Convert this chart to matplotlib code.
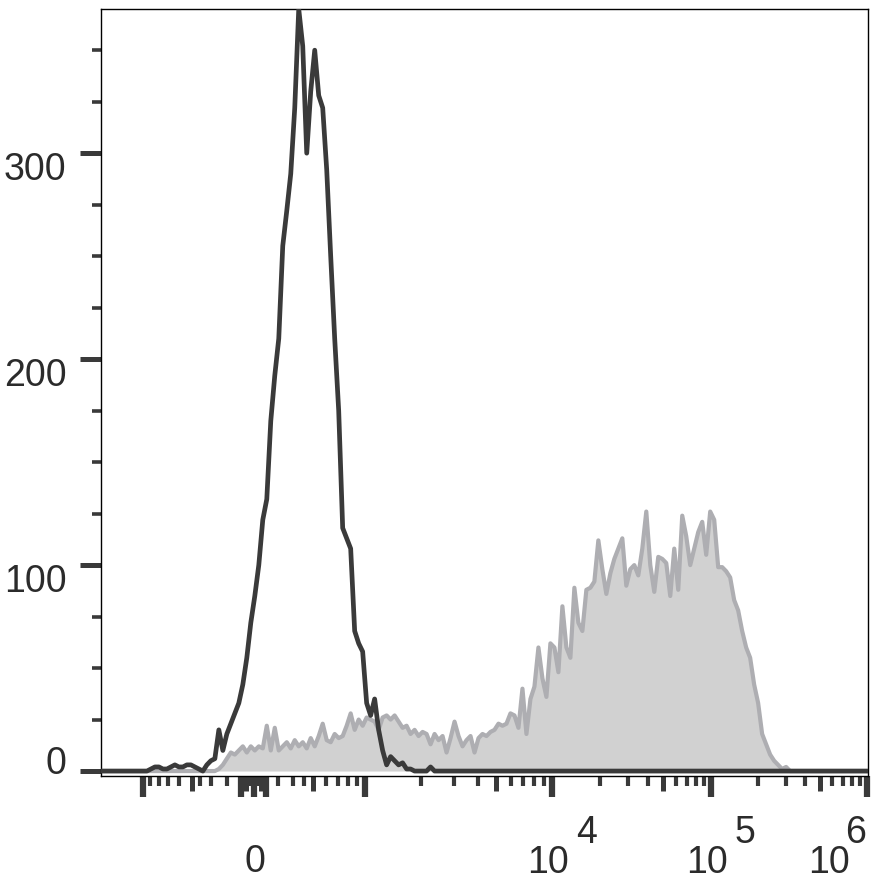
import numpy as np
import matplotlib
matplotlib.use('Agg')
import matplotlib.pyplot as plt
import matplotlib.transforms as mtransforms

plt.rcParams['font.family'] = ['Liberation Sans', 'DejaVu Sans']

# ── Histogram data: counts per display channel (192 channels across the axis) ──
N_CHANNELS = 192

# control sample (dark outline), counts from channel 12 on
control_start = 12
control_counts = [
    1, 2, 2, 1, 1, 2, 3, 2, 2, 3, 3, 2, 1, 0, 3, 5, 6, 20, 10, 18,
    23, 28, 33, 42, 55, 72, 85, 100, 122, 132, 170, 192, 210, 255, 272, 290,
    322, 370, 352, 300, 330, 350, 328, 322, 292, 250, 210, 175, 118, 113, 108,
    68, 62, 58, 33, 27, 35, 20, 10, 3, 7, 5, 3, 4, 1, 1, 0, 0, 0, 0, 2,
]

# stained sample (grey filled), counts from channel 29 on
stained_start = 29
stained_counts = [
    1, 3, 6, 9, 8, 10, 12, 9, 12, 10, 12, 11, 22, 10, 21, 10, 12, 14, 11, 15,
    12, 14, 11, 16, 12, 17, 23, 15, 14, 18, 16, 17, 22, 28, 20, 25, 22, 26, 25, 24,
    20, 26, 27, 25, 27, 24, 21, 22, 18, 20, 17, 19, 18, 13, 18, 15, 17, 9, 16, 24,
    17, 12, 15, 17, 9, 16, 18, 17, 19, 20, 23, 22, 23, 28, 27, 21, 40, 18, 35, 41,
    60, 45, 36, 62, 60, 48, 80, 60, 55, 89, 72, 68, 88, 89, 92, 112, 98, 86, 96, 103,
    108, 113, 90, 98, 100, 95, 108, 126, 100, 87, 104, 103, 101, 85, 108, 88, 124, 114, 100, 108,
    116, 121, 105, 126, 122, 99, 99, 97, 94, 83, 78, 68, 60, 55, 42, 33, 18, 13, 8, 5,
    3, 1, 2, 0,
]

# biexponential display scale: intensity -> channel
BIEX_VALUES = [-1000, -500, -200, -100, 0, 100, 200, 500, 1000, 1e4, 1e5, 1e6]
BIEX_CHANNELS = [10.0, 22.25, 31.0, 34.5, 37.75, 40.75, 43.75, 52.5, 65.5, 112.5, 152.25, 191.25]

MAJOR_VALUES = [-1000, -100, 0, 100, 1000, 1e4, 1e5, 1e6]
MEDIUM_VALUES = [-500, -50, 50, 500, 5e3, 5e4, 5e5]
MINOR_VALUES = ([-v for v in (200, 300, 400, 600, 700, 800, 900)]
                + [-v for v in (10, 20, 30, 40, 60, 70, 80, 90)]
                + [10, 20, 30, 40, 60, 70, 80, 90]
                + [200, 300, 400, 600, 700, 800, 900]
                + [m * d for d in (1e3, 1e4, 1e5) for m in (2, 3, 4, 6, 7, 8, 9)])

LABEL_DECADES = [(1e4, '4'), (1e5, '5'), (1e6, '6')]

Y_MAJOR = [0, 100, 200, 300]
Y_MINOR = [25, 50, 75, 125, 150, 175, 225, 250, 275, 325, 350]

DARK = '#3a3a3a'
FILL = '#d1d1d1'
EDGE = '#aeaeb2'
TEXT = '#2b2b2b'


def biex(v):
    s = np.arcsinh(np.asarray(v, dtype=float) / 50.0)
    return np.interp(s, np.arcsinh(np.array(BIEX_VALUES) / 50.0), BIEX_CHANNELS)


# ── build full-length histograms ─────────────────────────────────────────────
channels = np.arange(N_CHANNELS)
control = np.zeros(N_CHANNELS)
control[control_start:control_start + len(control_counts)] = control_counts
stained = np.zeros(N_CHANNELS)
stained[stained_start:stained_start + len(stained_counts)] = stained_counts

fig = plt.figure(figsize=(8.82, 8.83), dpi=100)
ax = fig.add_axes([101 / 882, 107 / 883, 767 / 882, 767 / 883])

ax.fill_between(channels, stained, 0, color=FILL, linewidth=0, zorder=1)
ax.plot(channels, stained, color=EDGE, linewidth=3.0, zorder=2)
ax.plot(channels, control, color=DARK, linewidth=3.4, zorder=3)

ax.set_xlim(-0.5, N_CHANNELS - 0.5)
ax.set_ylim(-2.4, 370)

for sp in ax.spines.values():
    sp.set_color('black')
    sp.set_linewidth(1.0)

# ── x ticks (three lengths) ───────────────────────────────────────────────────
big = MAJOR_VALUES + MEDIUM_VALUES
ax.set_xticks(biex(big))
ax.set_xticks(biex(MINOR_VALUES), minor=True)
ax.set_xticklabels([''] * len(big))
ax.tick_params(axis='x', which='major', direction='out', length=15, width=4.5, color=DARK)
ax.tick_params(axis='x', which='minor', direction='out', length=7, width=3.0, color=DARK)
for tick in ax.xaxis.get_major_ticks()[len(MAJOR_VALUES):]:
    tick.tick1line.set_markersize(11)
    tick.tick1line.set_markeredgewidth(3.6)

# ── y ticks ───────────────────────────────────────────────────────────────────
ax.set_yticks(Y_MAJOR)
ax.set_yticks(Y_MINOR, minor=True)
ax.set_yticklabels([str(v) for v in Y_MAJOR])
ax.tick_params(axis='y', which='major', direction='out', length=15, width=3.6,
               color=DARK, pad=10, labelsize=27, labelcolor=TEXT)
ax.tick_params(axis='y', which='minor', direction='out', length=6.5, width=2.6, color=DARK)
for v, lab in zip(Y_MAJOR, ax.get_yticklabels()):
    dy = 11 if v == 0 else -13
    lab.set_transform(lab.get_transform()
                      + mtransforms.ScaledTranslation(0, dy / 100, fig.dpi_scale_trans))

# ── x labels: "0" and 10^n ───────────────────────────────────────────────────
xy_trans = ('data', 'axes fraction')
ax.annotate('0', xy=(biex(0), 0), xycoords=xy_trans, xytext=(1, -86),
            textcoords='offset pixels', ha='center', va='center',
            fontsize=27, color=TEXT)
for value, exp in LABEL_DECADES:
    base_dx, sup_dx = (-38, -11) if value == 1e6 else (-4, 34)
    ax.annotate('10', xy=(biex(value), 0), xycoords=xy_trans, xytext=(base_dx, -87),
                textcoords='offset pixels', ha='center', va='center',
                fontsize=27, color=TEXT)
    ax.annotate(exp, xy=(biex(value), 0), xycoords=xy_trans, xytext=(sup_dx, -57),
                textcoords='offset pixels', ha='center', va='center',
                fontsize=27, color=TEXT)

fig.savefig('out.png', dpi=100)
